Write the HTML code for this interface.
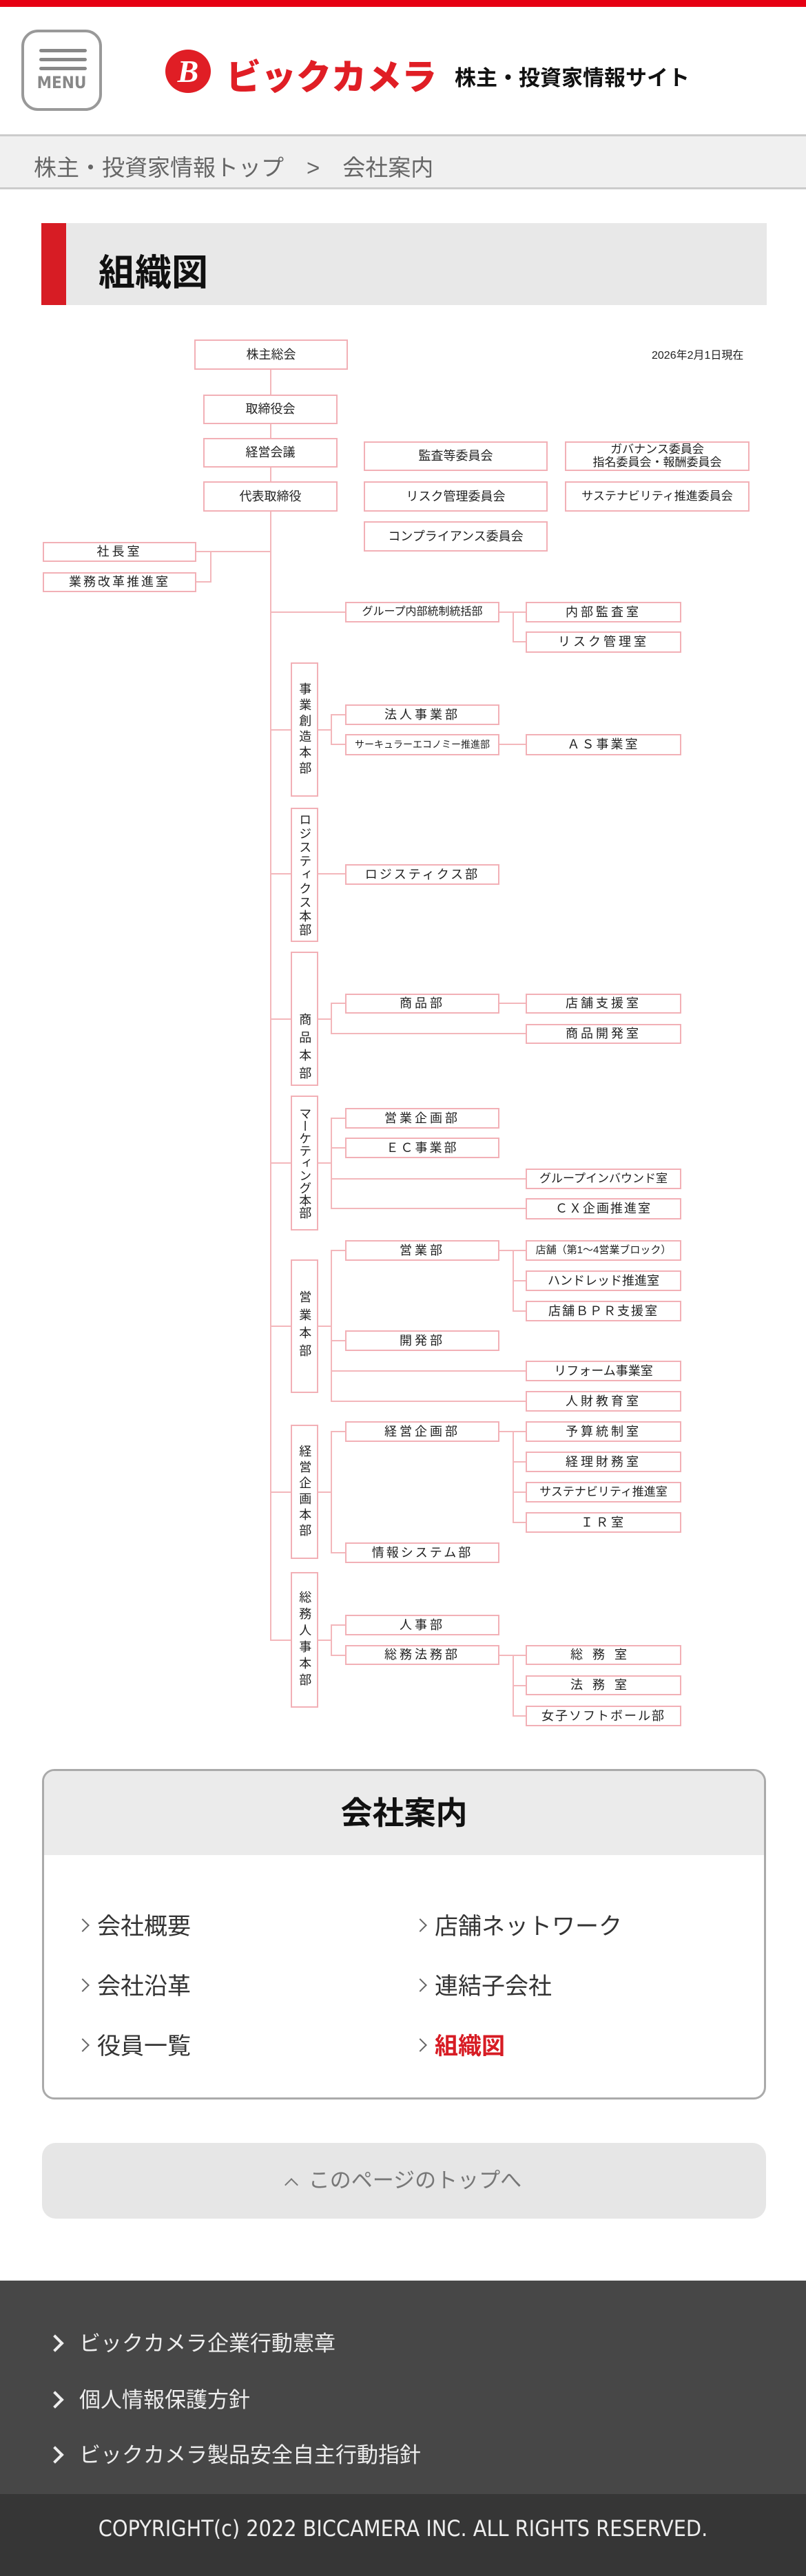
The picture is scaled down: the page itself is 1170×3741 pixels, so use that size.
<!DOCTYPE html>
<html><head><meta charset="utf-8">
<style>
*{margin:0;padding:0;box-sizing:border-box}
body{width:1170px;height:3741px;position:relative;background:#fff;font-family:"Liberation Sans","Noto Sans CJK JP",sans-serif;overflow:hidden}
.a{position:absolute}
.b{position:absolute;border:2px solid #f2b0b6;background:#fff;display:flex;align-items:center;justify-content:center;font-size:18px;color:#222;white-space:nowrap;text-align:center;line-height:1.25}
.vt{writing-mode:vertical-rl;letter-spacing:5px}
.h{position:absolute;height:2px;background:#f3b7bb}
.v{position:absolute;width:2px;background:#f3b7bb}
.lk{position:absolute;font-size:34px;color:#333}
.lk:before{content:"";display:inline-block;width:12px;height:12px;border-right:2px solid #666;border-top:2px solid #666;transform:rotate(45deg);margin-right:14px;vertical-align:middle;position:relative;top:-4px}
.fl{position:absolute;left:71px;font-size:31px;color:#eee}
.fl:before{content:"";display:inline-block;width:14px;height:14px;border-right:4px solid #eee;border-top:4px solid #eee;transform:rotate(45deg);margin-right:26px;vertical-align:middle;position:relative;top:-3px}
</style></head><body>
<!-- header -->
<div class="a" style="left:0;top:0;width:1170px;height:10px;background:#e60012"></div>
<div class="a" style="left:31px;top:43px;width:117px;height:118px;border:4px solid #999;border-radius:24px"></div>
<div class="a" style="left:57px;top:71px;width:69px;height:5px;background:#888;border-radius:3px"></div>
<div class="a" style="left:57px;top:84px;width:69px;height:5px;background:#888;border-radius:3px"></div>
<div class="a" style="left:57px;top:97px;width:69px;height:5px;background:#888;border-radius:3px"></div>
<div class="a" style="left:31px;top:106px;width:117px;text-align:center;font-size:24px;font-weight:bold;color:#888;font-family:'DejaVu Sans Condensed','Liberation Sans',sans-serif">MENU</div>
<div class="a" style="left:240px;top:72px;width:66px;height:63px;border-radius:50%;background:#e01e25;color:#fff;font:italic bold 46px 'Liberation Serif',serif;text-align:center;line-height:63px">B</div>
<div class="a" style="left:328px;top:71px;font-size:51px;font-weight:900;color:#e01e25">ビックカメラ</div>
<div class="a" style="left:660px;top:88px;font-size:31px;font-weight:bold;color:#111">株主・投資家情報サイト</div>
<div class="a" style="left:0;top:195px;width:1170px;height:80px;background:#f0f0f0;border-top:3px solid #ccc;border-bottom:3px solid #ccc"></div>
<div class="a" style="left:49px;top:217px;font-size:33px;color:#666;white-space:pre">株主・投資家情報トップ　&gt;　会社案内</div>
<div class="a" style="left:60px;top:324px;width:1053px;height:119px;background:#e8e8e8;border-left:36px solid #d71c24"></div>
<div class="a" style="left:143px;top:354px;font-size:53px;font-weight:bold;color:#111">組織図</div>

<!-- chart lines -->
<div class="v" style="left:392px;top:537px;height:1846px"></div>
<div class="h" style="left:285px;top:800px;width:108px"></div>
<div class="v" style="left:305px;top:800px;height:46px"></div>
<div class="h" style="left:285px;top:844px;width:21px"></div>
<div class="h" style="left:393px;top:888px;width:108px"></div>
<div class="h" style="left:725px;top:888px;width:38px"></div>
<div class="v" style="left:744px;top:888px;height:45px"></div>
<div class="h" style="left:745px;top:931px;width:18px"></div>
<div class="h" style="left:393px;top:1059px;width:29px"></div>
<div class="h" style="left:393px;top:1268px;width:29px"></div>
<div class="h" style="left:393px;top:1479px;width:29px"></div>
<div class="h" style="left:393px;top:1688px;width:29px"></div>
<div class="h" style="left:393px;top:1925px;width:29px"></div>
<div class="h" style="left:393px;top:2166px;width:29px"></div>
<div class="h" style="left:393px;top:2381px;width:29px"></div>
<div class="h" style="left:462px;top:1059px;width:19px"></div>
<div class="v" style="left:480px;top:1037px;height:45px"></div>
<div class="h" style="left:481px;top:1037px;width:20px"></div>
<div class="h" style="left:481px;top:1080px;width:20px"></div>
<div class="h" style="left:725px;top:1080px;width:38px"></div>
<div class="h" style="left:462px;top:1268px;width:39px"></div>
<div class="h" style="left:462px;top:1479px;width:19px"></div>
<div class="v" style="left:480px;top:1456px;height:46px"></div>
<div class="h" style="left:481px;top:1456px;width:20px"></div>
<div class="h" style="left:725px;top:1456px;width:38px"></div>
<div class="h" style="left:481px;top:1500px;width:282px"></div>
<div class="h" style="left:462px;top:1688px;width:19px"></div>
<div class="v" style="left:480px;top:1623px;height:133px"></div>
<div class="h" style="left:481px;top:1623px;width:20px"></div>
<div class="h" style="left:481px;top:1666px;width:20px"></div>
<div class="h" style="left:481px;top:1711px;width:282px"></div>
<div class="h" style="left:481px;top:1754px;width:282px"></div>
<div class="h" style="left:462px;top:1925px;width:19px"></div>
<div class="v" style="left:480px;top:1815px;height:221px"></div>
<div class="h" style="left:481px;top:1815px;width:20px"></div>
<div class="h" style="left:481px;top:1946px;width:20px"></div>
<div class="h" style="left:481px;top:1990px;width:282px"></div>
<div class="h" style="left:481px;top:2034px;width:282px"></div>
<div class="h" style="left:725px;top:1815px;width:38px"></div>
<div class="v" style="left:744px;top:1815px;height:90px"></div>
<div class="h" style="left:745px;top:1859px;width:18px"></div>
<div class="h" style="left:745px;top:1903px;width:18px"></div>
<div class="h" style="left:462px;top:2166px;width:19px"></div>
<div class="v" style="left:480px;top:2078px;height:178px"></div>
<div class="h" style="left:481px;top:2078px;width:20px"></div>
<div class="h" style="left:481px;top:2254px;width:20px"></div>
<div class="h" style="left:725px;top:2078px;width:38px"></div>
<div class="v" style="left:744px;top:2078px;height:134px"></div>
<div class="h" style="left:745px;top:2122px;width:18px"></div>
<div class="h" style="left:745px;top:2166px;width:18px"></div>
<div class="h" style="left:745px;top:2210px;width:18px"></div>
<div class="h" style="left:462px;top:2381px;width:19px"></div>
<div class="v" style="left:480px;top:2359px;height:46px"></div>
<div class="h" style="left:481px;top:2359px;width:20px"></div>
<div class="h" style="left:481px;top:2403px;width:20px"></div>
<div class="h" style="left:725px;top:2403px;width:38px"></div>
<div class="v" style="left:744px;top:2403px;height:90px"></div>
<div class="h" style="left:745px;top:2447px;width:18px"></div>
<div class="h" style="left:745px;top:2491px;width:18px"></div>

<!-- chart boxes -->
<div class="a" style="left:946px;top:502px;font-size:16px;color:#222">2026年2月1日現在</div>
<div class="b" style="left:282px;top:493px;width:223px;height:44px">株主総会</div>
<div class="b" style="left:295px;top:573px;width:195px;height:43px">取締役会</div>
<div class="b" style="left:295px;top:636px;width:195px;height:43px">経営会議</div>
<div class="b" style="left:295px;top:699px;width:195px;height:44px">代表取締役</div>
<div class="b" style="left:528px;top:641px;width:267px;height:43px">監査等委員会</div>
<div class="b" style="left:820px;top:641px;width:268px;height:43px;font-size:17px;line-height:1.1">ガバナンス委員会<br>指名委員会・報酬委員会</div>
<div class="b" style="left:528px;top:699px;width:267px;height:44px">リスク管理委員会</div>
<div class="b" style="left:820px;top:699px;width:268px;height:44px;font-size:17px">サステナビリティ推進委員会</div>
<div class="b" style="left:528px;top:757px;width:267px;height:44px">コンプライアンス委員会</div>
<div class="b" style="left:62px;top:787px;width:223px;height:29px;letter-spacing:4px">社長室</div>
<div class="b" style="left:62px;top:831px;width:223px;height:29px;letter-spacing:3px">業務改革推進室</div>
<div class="b" style="left:501px;top:874px;width:224px;height:30px;font-size:16px">グループ内部統制統括部</div>
<div class="b" style="left:763px;top:874px;width:226px;height:30px;letter-spacing:4px">内部監査室</div>
<div class="b" style="left:763px;top:917px;width:226px;height:31px;letter-spacing:4px">リスク管理室</div>

<div class="b vt" style="left:422px;top:962px;width:40px;height:195px">事業創造本部</div>
<div class="b" style="left:501px;top:1023px;width:224px;height:30px;letter-spacing:4px">法人事業部</div>
<div class="b" style="left:501px;top:1066px;width:224px;height:31px;font-size:14px">サーキュラーエコノミー推進部</div>
<div class="b" style="left:763px;top:1066px;width:226px;height:31px;letter-spacing:3px">ＡＳ事業室</div>

<div class="b vt" style="left:422px;top:1173px;width:40px;height:195px;letter-spacing:2px">ロジスティクス本部</div>
<div class="b" style="left:501px;top:1255px;width:224px;height:30px;letter-spacing:3px">ロジスティクス部</div>

<div class="b vt" style="left:422px;top:1382px;width:40px;height:195px;letter-spacing:8px;justify-content:flex-end;padding-top:40px">商品本部</div>
<div class="b" style="left:501px;top:1443px;width:224px;height:29px;letter-spacing:4px">商品部</div>
<div class="b" style="left:763px;top:1443px;width:226px;height:29px;letter-spacing:4px">店舗支援室</div>
<div class="b" style="left:763px;top:1487px;width:226px;height:29px;letter-spacing:4px">商品開発室</div>

<div class="b vt" style="left:422px;top:1591px;width:40px;height:196px;letter-spacing:0px">マーケティング本部</div>
<div class="b" style="left:501px;top:1609px;width:224px;height:30px;letter-spacing:4px">営業企画部</div>
<div class="b" style="left:501px;top:1652px;width:224px;height:30px;letter-spacing:3px">ＥＣ事業部</div>
<div class="b" style="left:763px;top:1697px;width:226px;height:30px;font-size:17px">グループインバウンド室</div>
<div class="b" style="left:763px;top:1740px;width:226px;height:31px;letter-spacing:2px">ＣＸ企画推進室</div>

<div class="b vt" style="left:422px;top:1829px;width:40px;height:194px;letter-spacing:8px">営業本部</div>
<div class="b" style="left:501px;top:1801px;width:224px;height:30px;letter-spacing:4px">営業部</div>
<div class="b" style="left:763px;top:1801px;width:226px;height:30px;font-size:15px">店舗（第1～4営業ブロック）</div>
<div class="b" style="left:763px;top:1845px;width:226px;height:30px">ハンドレッド推進室</div>
<div class="b" style="left:763px;top:1889px;width:226px;height:30px;letter-spacing:2px">店舗ＢＰＲ支援室</div>
<div class="b" style="left:501px;top:1932px;width:224px;height:30px;letter-spacing:4px">開発部</div>
<div class="b" style="left:763px;top:1976px;width:226px;height:30px">リフォーム事業室</div>
<div class="b" style="left:763px;top:2020px;width:226px;height:30px;letter-spacing:4px">人財教育室</div>

<div class="b vt" style="left:422px;top:2069px;width:40px;height:195px;letter-spacing:5px">経営企画本部</div>
<div class="b" style="left:501px;top:2064px;width:224px;height:30px;letter-spacing:4px">経営企画部</div>
<div class="b" style="left:763px;top:2064px;width:226px;height:30px;letter-spacing:4px">予算統制室</div>
<div class="b" style="left:763px;top:2108px;width:226px;height:30px;letter-spacing:4px">経理財務室</div>
<div class="b" style="left:763px;top:2152px;width:226px;height:30px;font-size:17px">サステナビリティ推進室</div>
<div class="b" style="left:763px;top:2196px;width:226px;height:30px;letter-spacing:4px">ＩＲ室</div>
<div class="b" style="left:501px;top:2240px;width:224px;height:30px;letter-spacing:3px">情報システム部</div>

<div class="b vt" style="left:422px;top:2283px;width:40px;height:197px;letter-spacing:6px">総務人事本部</div>
<div class="b" style="left:501px;top:2345px;width:224px;height:30px;letter-spacing:4px">人事部</div>
<div class="b" style="left:501px;top:2389px;width:224px;height:29px;letter-spacing:4px">総務法務部</div>
<div class="b" style="left:763px;top:2389px;width:226px;height:29px;letter-spacing:14px">総務室</div>
<div class="b" style="left:763px;top:2433px;width:226px;height:29px;letter-spacing:14px">法務室</div>
<div class="b" style="left:763px;top:2477px;width:226px;height:30px;letter-spacing:2px">女子ソフトボール部</div>

<!-- 会社案内 -->
<div class="a" style="left:61px;top:2569px;width:1051px;height:480px;border:3px solid #aaa;border-radius:18px;overflow:hidden">
<div style="height:122px;background:#ebebeb;text-align:center;font-size:46px;font-weight:bold;color:#111;line-height:122px">会社案内</div>
</div>
<div class="lk" style="left:113px;top:2770px">会社概要</div>
<div class="lk" style="left:603px;top:2770px">店舗ネットワーク</div>
<div class="lk" style="left:113px;top:2857px">会社沿革</div>
<div class="lk" style="left:603px;top:2857px">連結子会社</div>
<div class="lk" style="left:113px;top:2944px">役員一覧</div>
<div class="lk" style="left:603px;top:2944px;color:#d71c24;font-weight:bold">組織図</div>

<div class="a" style="left:61px;top:3112px;width:1051px;height:110px;background:#e6e6e6;border-radius:20px;text-align:center;line-height:110px;font-size:31px;color:#777"><span style="display:inline-block;width:14px;height:14px;border-left:2px solid #777;border-top:2px solid #777;transform:rotate(45deg);margin-right:18px;vertical-align:middle;position:relative;top:4px"></span>このページのトップへ</div>

<!-- footer -->
<div class="a" style="left:0;top:3312px;width:1170px;height:310px;background:#474747"></div>
<div class="a" style="left:0;top:3622px;width:1170px;height:119px;background:#363636"></div>
<div class="fl" style="top:3378px">ビックカメラ企業行動憲章</div>
<div class="fl" style="top:3460px">個人情報保護方針</div>
<div class="fl" style="top:3540px">ビックカメラ製品安全自主行動指針</div>
<div class="a" style="left:0;top:3653px;width:1170px;text-align:center;font-size:32px;color:#eee;font-family:'DejaVu Sans Condensed','Liberation Sans',sans-serif">COPYRIGHT(c) 2022 BICCAMERA INC. ALL RIGHTS RESERVED.</div>
</body></html>
